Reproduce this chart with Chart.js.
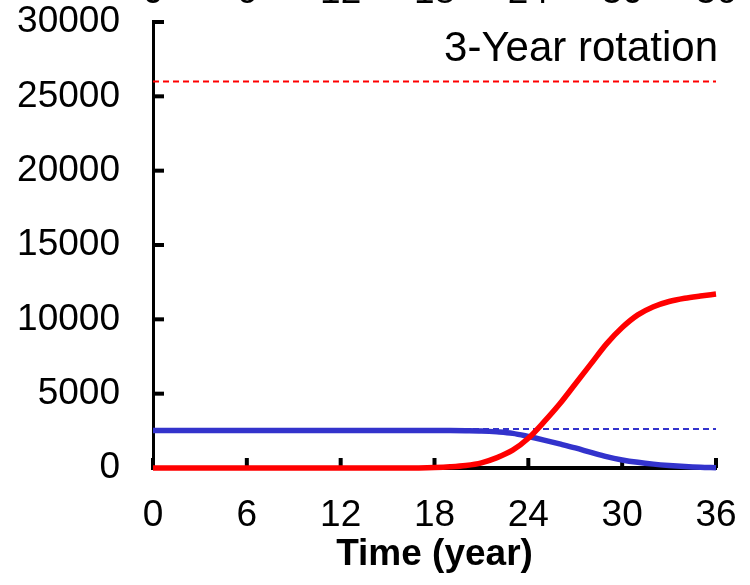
<!DOCTYPE html>
<html><head><meta charset="utf-8">
<script src="https://cdn.jsdelivr.net/npm/chart.js@4/dist/chart.umd.min.js"></script>
<style>html,body{margin:0;padding:0;background:#fff}#wrap{width:750px;height:585px}</style>
</head><body><div id="wrap"><canvas id="c" width="750" height="585"></canvas></div>
<script>
const years = [0,1,2,3,4,5,6,7,8,9,10,11,12,13,14,15,16,17,18,19,20,21,22,23,24,25,26,27,28,29,30,31,32,33,34,35,36];
const redSeries = [0,0,0,0,0,0,0,0,0,0,0,0,0,0,0,0,0,5,30,80,170,350,700,1200,2000,3100,4300,5650,7000,8350,9450,10300,10850,11200,11420,11570,11700];
const blueSeries = [2520,2520,2520,2520,2520,2520,2520,2520,2520,2520,2520,2520,2520,2520,2520,2520,2520,2520,2520,2520,2510,2490,2430,2330,2120,1880,1620,1350,1050,760,540,380,260,170,100,50,20];
const redReference = 26000;
const blueReference = 2620;
const xTickValues = [0,6,12,18,24,30,36];
const yTickValues = [0,5000,10000,15000,20000,25000,30000];
const panelLabel = '3-Year rotation';
const xAxisTitle = 'Time (year)';

const FONT = "'Liberation Sans', Arial, sans-serif";

const innerTicks = {
  id: 'innerTicks',
  beforeDatasetsDraw(chart) {
    const ctx = chart.ctx, xs = chart.scales.x, ys = chart.scales.y, a = chart.chartArea;
    ctx.save();
    ctx.fillStyle = '#000';
    xTickValues.forEach(v => {
      const px = xs.getPixelForValue(v);
      ctx.fillRect(px - 2, a.bottom - 10, 4, 10);
    });
    yTickValues.forEach(v => {
      const py = ys.getPixelForValue(v);
      ctx.fillRect(a.left - 1, py - 2, 12, 4);
    });
    ctx.restore();
  },
  afterDraw(chart) {
    const ctx = chart.ctx, xs = chart.scales.x;
    ctx.save();
    ctx.fillStyle = '#000';
    ctx.font = '42px ' + FONT;
    ctx.textAlign = 'right';
    ctx.textBaseline = 'alphabetic';
    ctx.fillText(panelLabel, 718, 61);
    ctx.font = '37px ' + FONT;
    ctx.textAlign = 'center';
    xTickValues.forEach(v => {
      ctx.fillText(String(v), xs.getPixelForValue(v), 3);
    });
    ctx.restore();
  }
};

const toPts = arr => years.map((x, i) => ({x: x, y: arr[i]}));

new Chart(document.getElementById('c'), {
  type: 'line',
  data: {
    datasets: [
      {label: 'red', data: toPts(redSeries), borderColor: '#FF0000', borderWidth: 5.5, pointRadius: 0, cubicInterpolationMode: 'monotone', clip: false, order: 0},
      {label: 'blue', data: toPts(blueSeries), borderColor: '#3333CC', borderWidth: 5.5, pointRadius: 0, cubicInterpolationMode: 'monotone', clip: false, order: 1},
      {label: 'blueRef', data: [{x: 0, y: blueReference}, {x: 36, y: blueReference}], borderColor: '#3333CC', borderWidth: 2, borderDash: [6, 4], pointRadius: 0, clip: false, order: 2},
      {label: 'redRef', data: [{x: 0, y: redReference}, {x: 36, y: redReference}], borderColor: '#FF0000', borderWidth: 2, borderDash: [6, 4], pointRadius: 0, clip: false, order: 3}
    ]
  },
  options: {
    responsive: false,
    animation: false,
    devicePixelRatio: 1,
    layout: {padding: {left: 0, right: 34, top: 22, bottom: 0}},
    plugins: {legend: {display: false}, tooltip: {enabled: false}},
    scales: {
      x: {
        type: 'linear', min: 0, max: 36,
        afterBuildTicks: s => { s.ticks = xTickValues.map(v => ({value: v})); },
        ticks: {color: '#000', font: {size: 37, family: FONT}, padding: 26, maxRotation: 0, autoSkip: false},
        grid: {drawOnChartArea: false, drawTicks: false},
        border: {color: '#000', width: 4},
        title: {display: true, text: xAxisTitle, color: '#000', font: {size: 37, weight: 'bold', family: FONT}, padding: {top: 0, bottom: 8}},
        afterFit: s => { s.height = 117; s.paddingLeft = 0; s.paddingRight = 0; }
      },
      y: {
        min: 0, max: 30000,
        afterBuildTicks: s => { s.ticks = yTickValues.map(v => ({value: v})); },
        ticks: {color: '#000', font: {size: 37, family: FONT}, padding: 33, callback: v => String(v)},
        grid: {drawOnChartArea: false, drawTicks: false},
        border: {color: '#000', width: 3},
        afterFit: s => { s.width = 153; s.paddingTop = 0; s.paddingBottom = 0; }
      }
    }
  },
  plugins: [innerTicks]
});
</script>
</body></html>
